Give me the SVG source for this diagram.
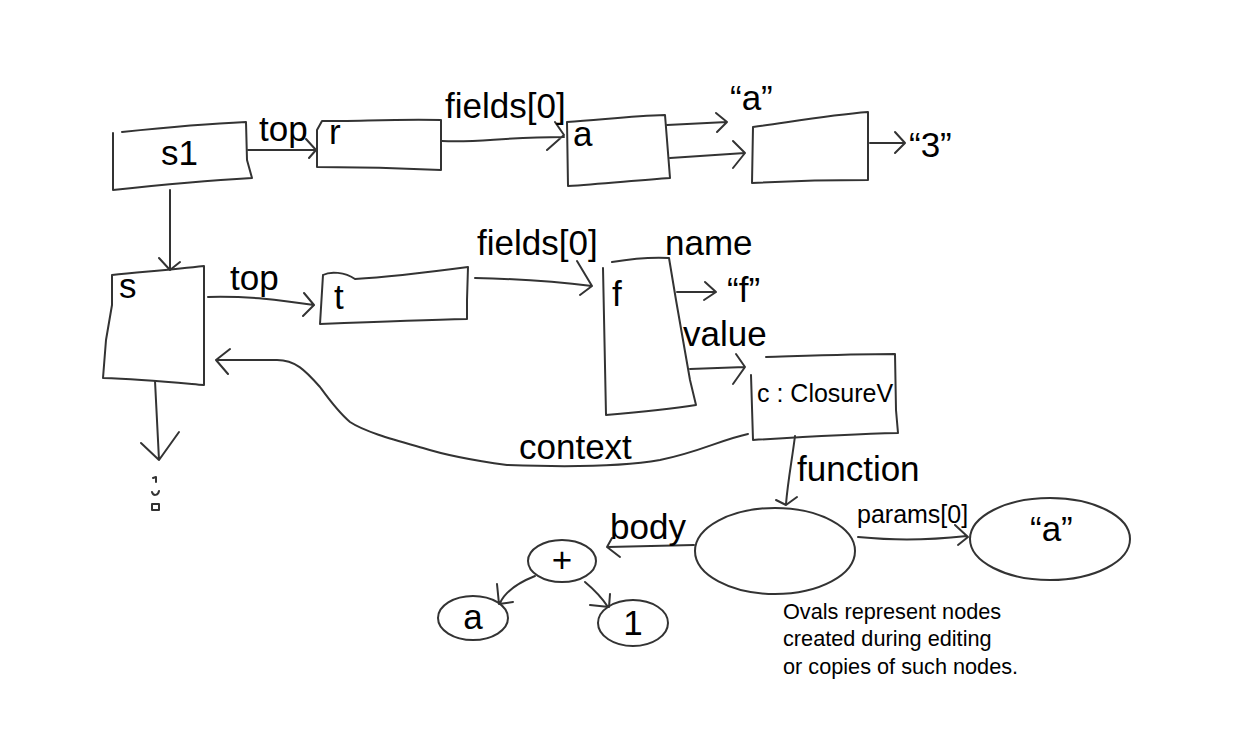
<svg xmlns="http://www.w3.org/2000/svg" width="1255" height="755" viewBox="0 0 1255 755">
<style>
.box{fill:none;stroke:#333;stroke-width:2;stroke-linejoin:round;stroke-linecap:round}
.ov{fill:none;stroke:#333;stroke-width:2}
.ln{fill:none;stroke:#333;stroke-width:2;stroke-linecap:round;stroke-linejoin:round}
text{font-family:"Liberation Sans",Arial,sans-serif;fill:#000}
.lbl{font-size:35px}
.mid{font-size:25px}
.cap{font-size:21.7px}
</style>
<rect width="1255" height="755" fill="#fff"/>
<g id="connectors">
<path class="ln" d="M248,150 L316,150 M306,139 L316,150 L309,158"/>
<path class="ln" d="M442,141 C480,143 500,137 564,137 M555,122 L564,135 L547,150"/>
<path class="ln" d="M667,125 L727,122 M716,113 L727,122 L717,132"/>
<path class="ln" d="M670,158 L745,153 M733,141 L745,153 L733,168"/>
<path class="ln" d="M870,143 L903,143 M895,132 L905,143 L895,153"/>
<path class="ln" d="M170,190 L170,269 M159,258 L170,270 L180,262"/>
<path class="ln" d="M208,297 C250,296 280,300 314,305 M304,293 L314,305 L303,316"/>
<path class="ln" d="M475,278 C520,279 560,282 592,286 M577,261 L592,286 L580,295"/>
<path class="ln" d="M677,292 L715,292 M705,282 L716,292 L704,300"/>
<path class="ln" d="M690,369 L745,367 M736,354 L745,367 L733,384"/>
<path class="ln" d="M748,434 C720,440 700,452 660,460 C620,467 560,467 507,465 C470,460 445,455 423,448 C395,440 365,432 350,422 C338,412 328,398 320,387 C305,370 295,360 277,360 L217,360 M230,349 L216,360 L228,374"/>
<path class="ln" d="M795,436 C792,460 788,480 786,504 M776,500 L786,505 L797,497"/>
<path class="ln" d="M858,537 C890,540 920,541 967,536 M955,525 L968,537 L958,545"/>
<path class="ln" d="M694,545 L608,547 M620,557 L607,547 L612,538"/>
<path class="ln" d="M535,576 C515,584 505,592 500,603 M497,584 L499,604 L513,602"/>
<path class="ln" d="M585,582 C597,592 602,598 608,607 M590,605 L609,607 L610,594"/>
<path class="ln" d="M155,381 L159,460 M141,443 L159,460 L179,432"/>
</g>
<g id="node-s1">
<path class="box" d="M122,132 C160,128 200,124 246,122 L247,160 L252,178 C200,181 150,186 113,190 L113,133"/>
<text class="lbl" x="161" y="165">s1</text>
</g>
<text class="lbl" x="259" y="141">top</text>
<g id="node-r">
<path class="box" d="M322,121 L317,130 L317,167 C360,167 400,168 441,170 L441,120 C400,119 360,121 322,121 Z"/>
<text class="lbl" x="329" y="144">r</text>
</g>
<text class="lbl" x="445" y="118">fields[0]</text>
<g id="node-a">
<path class="box" d="M567,122 C600,120 630,116 665,115 L667,140 L670,178 C640,180 600,184 568,186 L567,122"/>
<text class="lbl" x="573" y="146">a</text>
</g>
<text class="lbl" x="730" y="110">“a”</text>
<g id="node-box2">
<path class="box" d="M753,127 C790,122 830,115 868,112 L868,180 C830,180 790,181 752,183 Z"/>
</g>
<text class="lbl" x="909" y="157">“3”</text>
<g id="node-s">
<path class="box" d="M112,275 C140,272 170,270 204,266 L204,340 L204,385 C170,382 140,379 103,378 L106,340 L112,305 Z"/>
<text class="lbl" x="119" y="298">s</text>
</g>
<text class="lbl" x="230" y="290">top</text>
<g id="node-t">
<path class="box" d="M323,275 C330,271 345,272 355,279 C390,277 430,272 468,267 L467,300 L467,319 C420,320 370,322 320,324 L323,275"/>
<text class="lbl" x="334" y="309">t</text>
</g>
<text class="lbl" x="477" y="255">fields[0]</text>
<g id="node-f">
<path class="box" d="M612,262 C630,259 650,257 669,258 L676,300 L690,380 L696,405 C670,409 640,412 606,415 L603,268"/>
<text class="lbl" x="612" y="306">f</text>
</g>
<text class="lbl" x="665" y="255">name</text>
<text class="lbl" x="727" y="302">“f”</text>
<text class="lbl" x="683" y="346">value</text>
<g id="node-c">
<path class="box" d="M766,357 C800,356 850,354 895,354 L896,410 L898,433 C850,434 800,437 753,440 L751,375"/>
<text class="mid" x="757" y="402">c : ClosureV</text>
</g>
<text class="lbl" x="519" y="459">context</text>
<text class="lbl" x="797" y="481">function</text>
<g id="node-dots">
<path class="ln" d="M153,478 L156,477 L156,482 M152,492 C153,496 158,496 159,491 M152,504 L159,504 L159,510 L152,510 Z" stroke-width="1.5"/>
</g>
<g id="node-fun">
<ellipse class="ov" cx="775" cy="551" rx="80" ry="43"/>
</g>
<text class="mid" x="857" y="523">params[0]</text>
<g id="node-param">
<ellipse class="ov" cx="1050" cy="539" rx="80" ry="41"/>
<text class="lbl" x="1030" y="541">“a”</text>
</g>
<text class="lbl" x="610" y="539">body</text>
<g id="node-plus">
<ellipse class="ov" cx="562" cy="561" rx="34" ry="21"/>
<text class="lbl" x="562" y="572" text-anchor="middle">+</text>
</g>
<g id="node-a2">
<ellipse class="ov" cx="473" cy="618" rx="35" ry="22"/>
<text class="lbl" x="473" y="629" text-anchor="middle">a</text>
</g>
<g id="node-one">
<ellipse class="ov" cx="633" cy="623" rx="35" ry="23"/>
<text class="lbl" x="633" y="635" text-anchor="middle">1</text>
</g>
<g id="caption">
<text class="cap" x="783" y="619">Ovals represent nodes</text>
<text class="cap" x="783" y="646">created during editing</text>
<text class="cap" x="783" y="674">or copies of such nodes.</text>
</g>
</svg>
